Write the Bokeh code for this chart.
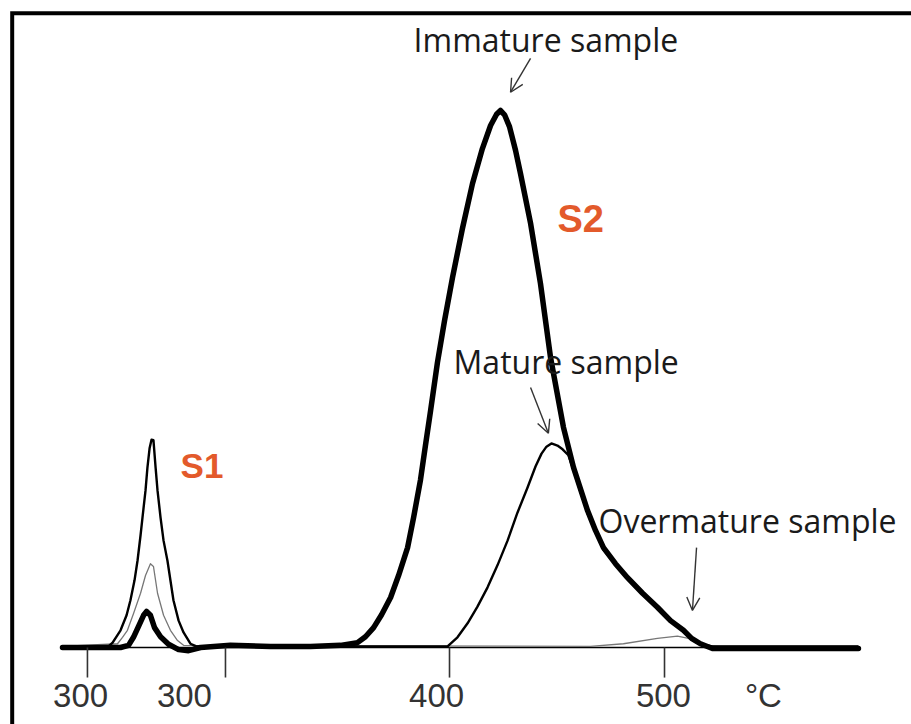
from bokeh.plotting import figure
from bokeh.models import Label, Arrow, OpenHead, Range1d
from bokeh.core.properties import value
from bokeh.embed import file_html
from bokeh.resources import INLINE

# ---------------- data (temperature in °C, signal in relative units) ----------------
IMM_T = [220.0, 247.0, 250.7, 253.0, 255.3, 257.7, 259.1, 260.9, 262.8, 265.6, 269.3, 274.0,
         278.6, 284.2, 298.1, 316.7, 335.3, 349.3, 357.2, 360.9, 364.7, 368.4, 372.6, 376.3,
         380.5, 383.3, 386.5, 388.8, 391.2, 394.4, 397.7, 401.4, 406.0, 410.7, 415.3, 419.1,
         421.9, 423.7, 425.6, 427.9, 430.7, 433.0, 437.7, 442.3, 447.0, 453.0, 457.7, 464.2,
         467.9, 471.6, 477.2, 482.8, 489.8, 496.7, 502.8, 508.8, 512.6, 516.7, 522.3, 530.7,
         590.2]
IMM_S = [0.0, 0.0, 0.4, 1.9, 3.9, 6.0, 6.7, 6.0, 3.7, 2.0, 0.6, -0.4,
         -0.6, 0.0, 0.4, 0.2, 0.2, 0.4, 0.9, 2.0, 3.7, 6.1, 9.3, 13.4,
         18.6, 24.2, 31.2, 37.6, 44.1, 53.1, 60.9, 68.9, 78.0, 86.4, 92.9, 97.2,
         99.3, 100.0, 99.2, 97.0, 92.6, 88.3, 79.0, 67.8, 54.0, 41.0, 33.5, 25.5,
         21.8, 18.6, 15.6, 13.0, 10.1, 7.5, 5.0, 3.2, 1.7, 0.7, -0.2, -0.2,
         -0.2]

MAT_T = [220.0, 241.4, 243.3, 247.0, 249.8, 251.6, 253.5, 254.9, 256.3, 257.2, 258.6, 259.5,
         260.5, 261.4, 262.3, 263.3, 264.2, 265.6, 267.0, 268.8, 271.6, 274.0, 276.3, 279.5,
         282.3, 399.1, 403.7, 408.4, 413.0, 417.7, 422.3, 427.0, 431.6, 436.3, 440.0, 442.8,
         445.1, 447.4, 450.2, 452.6, 455.3, 457.7, 464.2, 471.6, 482.8, 496.7, 508.8, 516.7,
         522.3, 590.2]
MAT_S = [0.2, 0.2, 0.9, 3.2, 6.0, 8.8, 12.5, 16.2, 20.9, 24.2, 29.2, 33.5,
         37.1, 38.7, 38.6, 33.5, 29.2, 24.2, 19.9, 16.2, 8.8, 5.0, 2.8, 0.7,
         0.2, 0.2, 1.9, 4.5, 7.6, 11.2, 15.3, 19.9, 25.1, 29.8, 33.7, 36.1,
         37.4, 38.0, 37.6, 36.9, 35.8, 33.0, 25.0, 18.2, 12.7, 7.2, 3.0, 0.6,
         0.2, 0.2]

OVM_T = [220.0, 245.6, 247.9, 250.2, 253.0, 256.3, 258.6, 260.9, 262.3, 264.2, 267.0, 270.2,
         273.5, 276.3, 465.6, 480.9, 496.7, 506.0, 511.2, 516.7, 526.0, 590.2]
OVM_S = [0.2, 0.7, 1.9, 3.2, 6.3, 10.1, 13.4, 15.6, 15.1, 10.1, 6.0, 3.2,
         1.3, 0.4, 0.2, 0.7, 1.7, 2.1, 1.7, 0.4, 0.2, 0.2]

TICK_T = [231.6, 295.8, 400.0, 500.0]
TICK_LABELS = ["300", "300", "400", "500"]
UNIT_LABEL = "°C"

PEAK_LABELS = ["S1", "S2"]
SAMPLE_LABELS = ["Immature sample", "Mature sample", "Overmature sample"]

# ---------------- layout ----------------
W, H = 911, 724
X0, X1 = 191.16, 614.88
Y0, Y1 = -14.34, 120.48
p = figure(width=W, height=H, output_backend="svg", toolbar_location=None,
           x_axis_type=None, y_axis_type=None, min_border=0,
           x_range=Range1d(X0, X1), y_range=Range1d(Y0, Y1))
p.outline_line_color = None
p.xgrid.visible = False
p.ygrid.visible = False
p.background_fill_color = "white"
p.border_fill_color = "white"

# frame box: only top and left edges fall inside the picture
FRAME_LEFT, FRAME_TOP = 196.6, 118.1
p.line(x=[FRAME_LEFT, FRAME_LEFT, X1 + 50], y=[Y0 - 50, FRAME_TOP, FRAME_TOP],
       line_color="black", line_width=4, line_join="miter")

# baseline (axis line)
p.line(x=[IMM_T[0], IMM_T[-1]], y=[0, 0], line_color="black", line_width=1.5)

# curves
p.line(x=OVM_T, y=OVM_S, line_color="#777777", line_width=1.3, line_join="round")
p.line(x=MAT_T, y=MAT_S, line_color="black", line_width=2.4, line_join="round")
p.line(x=IMM_T, y=IMM_S, line_color="black", line_width=5.5, line_join="round",
       line_cap="round")

# ticks below the baseline
p.segment(x0=TICK_T, y0=[0] * len(TICK_T), x1=TICK_T, y1=[-5.6] * len(TICK_T),
          line_color="#333333", line_width=1.6)

# tick labels and unit
LABEL_X = [228.4, 276.7, 394.0, 499.5, 546.0]
p.text(x=LABEL_X, y=[-8.9] * len(LABEL_X), text=TICK_LABELS + [UNIT_LABEL],
       text_font=value("Liberation Sans"), text_font_size="33px", text_color="#333333",
       text_align="center", text_baseline="middle")

# S1 / S2 labels
RED = "#E35A2B"
p.add_layout(Label(x=274.9, y=30.2, text=PEAK_LABELS[0], text_font="Liberation Sans",
                   text_font_style="bold", text_font_size="35px", text_color=RED))
p.add_layout(Label(x=450.2, y=75.8, text=PEAK_LABELS[1], text_font="Liberation Sans",
                   text_font_style="bold", text_font_size="38px", text_color=RED))

# sample annotations
ANN_POS = [(383.3, 109.3), (401.9, 49.3), (469.3, 19.7)]
for (ax, ay), t in zip(ANN_POS, SAMPLE_LABELS):
    p.add_layout(Label(x=ax, y=ay, text=t, text_font="Open Sans", text_font_size="32px",
                       text_color="#1a1a1a"))

ARROWS = [((437.7, 109.7), (428.4, 103.4)),
          ((437.7, 48.4), (446.0, 39.9)),
          ((514.9, 18.6), (513.0, 6.9))]
for (x0, y0), (x1, y1) in ARROWS:
    p.add_layout(Arrow(end=OpenHead(size=13, line_width=1.4, line_color="#333333"),
                       x_start=x0, y_start=y0, x_end=x1, y_end=y1,
                       line_color="#333333", line_width=1.4))

open("out.html", "w").write(file_html(p, INLINE))
